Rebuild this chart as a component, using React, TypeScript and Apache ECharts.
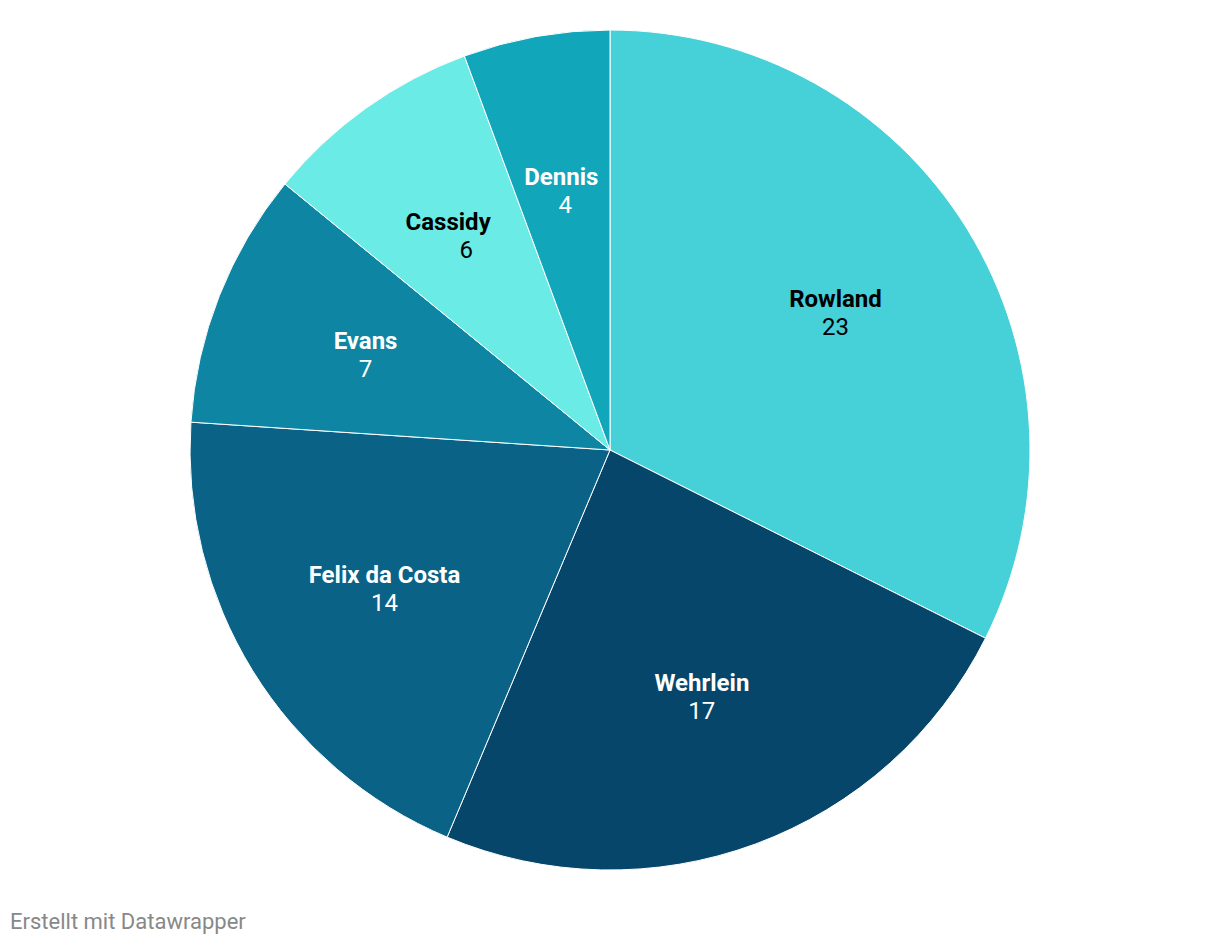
import React, { useEffect, useRef } from "react";
import * as echarts from "echarts";

const names = ["Rowland", "Wehrlein", "Felix da Costa", "Evans", "Cassidy", "Dennis"];
const values = [23, 17, 14, 7, 6, 4];
const colors = ["#46d0d8", "#06466a", "#0a6286", "#0e86a3", "#6aebe6", "#12a6bb"];
const textColors = ["#000000", "#ffffff", "#ffffff", "#ffffff", "#000000", "#ffffff"];
const footer = "Erstellt mit Datawrapper";

export default function App() {
  const ref = useRef<HTMLDivElement>(null);
  useEffect(() => {
    if (!ref.current) return;
    const chart = echarts.init(ref.current, null, { renderer: "svg" });
    const baseData = names.map((n, i) => ({
      name: n,
      value: values[i],
      itemStyle: { color: colors[i] },
    }));
    const valuePadLeft: Record<string, number> = { Cassidy: 36, Dennis: 8 };
    const labelOffset: Record<string, number[]> = {
      Rowland: [0, 2],
      Wehrlein: [0, -2],
      Cassidy: [-8, 2],
      Dennis: [-2, 2],
      Evans: [2, 2],
    };
    const labelData = names.map((n, i) => ({
      name: n,
      value: values[i],
      itemStyle: { color: "transparent", borderWidth: 0 },
      label: {
        color: textColors[i],
        offset: labelOffset[n] || [0, 0],
        rich: {
          n: {
            fontFamily: "Roboto",
            fontWeight: "bold",
            fontSize: 24,
            lineHeight: 28,
            color: textColors[i],
          },
          v: {
            fontFamily: "Roboto",
            fontSize: 24,
            lineHeight: 28,
            color: textColors[i],
            padding: [0, 0, 0, valuePadLeft[n] || 0],
          },
        },
      },
    }));
    chart.setOption({
      animation: false,
      backgroundColor: "#ffffff",
      graphic: [
        {
          type: "text",
          left: 10,
          top: 910,
          style: { text: footer, fontFamily: "Roboto", fontSize: 22, fill: "#888888" },
        },
      ],
      series: [
        {
          type: "pie",
          center: [610, 450],
          radius: [0, 420],
          startAngle: 90,
          clockwise: true,
          silent: true,
          data: baseData,
          label: { show: false },
          labelLine: { show: false },
          itemStyle: { borderColor: "#ffffff", borderWidth: 1 },
        },
        {
          type: "pie",
          center: [610, 450],
          radius: [104, 420],
          startAngle: 90,
          clockwise: true,
          silent: true,
          avoidLabelOverlap: false,
          data: labelData,
          label: {
            show: true,
            position: "inside",
            formatter: (p: any) => `{n|${p.name}}\n{v|${p.value}}`,
          },
          labelLine: { show: false },
        },
      ],
    });
    return () => chart.dispose();
  }, []);
  return <div ref={ref} style={{ position: "absolute", left: 0, top: 0, width: 1220, height: 946 }} />;
}
